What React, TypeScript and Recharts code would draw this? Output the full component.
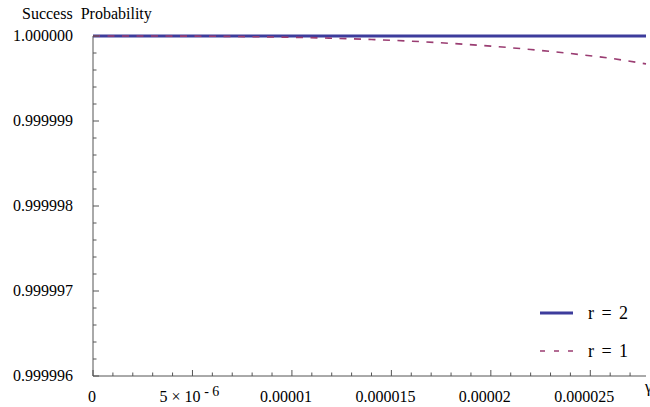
import { LineChart, Line, XAxis, YAxis, Legend } from 'recharts'

// x in units of the horizontal axis (step 2e-6)
const xValues = [
  0, 0.000002, 0.000004, 0.000006, 0.000008, 0.00001, 0.000012, 0.000014,
  0.000016, 0.000018, 0.00002, 0.000022, 0.000024, 0.000026, 0.0000278,
]
const r2Values = [1, 1, 1, 1, 1, 1, 1, 1, 1, 1, 1, 1, 1, 1, 1]
const r1Values = [
  1, 0.9999999999, 0.999999999, 0.999999997, 0.999999992, 0.999999985,
  0.999999974, 0.999999959, 0.999999939, 0.999999913, 0.999999881,
  0.999999841, 0.999999794, 0.999999738, 0.999999672,
]

const xTicks = [
  0, 0.000001, 0.000002, 0.000003, 0.000004, 0.000005, 0.000006, 0.000007,
  0.000008, 0.000009, 0.00001, 0.000011, 0.000012, 0.000013, 0.000014,
  0.000015, 0.000016, 0.000017, 0.000018, 0.000019, 0.00002, 0.000021,
  0.000022, 0.000023, 0.000024, 0.000025, 0.000026, 0.000027,
]
const xMajor = [0, 0.000005, 0.00001, 0.000015, 0.00002, 0.000025]
const xLabels = ['0', '5e-6', '0.00001', '0.000015', '0.00002', '0.000025']

const yTicks = [
  0.999996, 0.9999962, 0.9999964, 0.9999966, 0.9999968,
  0.999997, 0.9999972, 0.9999974, 0.9999976, 0.9999978,
  0.999998, 0.9999982, 0.9999984, 0.9999986, 0.9999988,
  0.999999, 0.9999992, 0.9999994, 0.9999996, 0.9999998, 1,
]
const yMajor = [0.999996, 0.999997, 0.999998, 0.999999, 1]
const yLabels = ['0.999996', '0.999997', '0.999998', '0.999999', '1.000000']

const data = xValues.map((x, i) => ({ x, r2: r2Values[i], r1: r1Values[i] }))

const series = [
  { key: 'r2', name: 'r = 2', color: '#3d3c9c', width: 3.2, dash: undefined, legendDash: undefined },
  { key: 'r1', name: 'r = 1', color: '#9a3d72', width: 1.6, dash: '7 7.5', legendDash: '5 9' },
]

const FONT = "'Liberation Serif', 'Times New Roman', serif"
const AXIS = '#555'

function YTick({ x, y, payload }: any) {
  const idx = yMajor.indexOf(payload.value)
  const major = idx >= 0
  return (
    <g>
      <line x1={x} x2={x + (major ? 6 : 3.5)} y1={y} y2={y} stroke={AXIS} strokeWidth={1} />
      {major && (
        <text x={x - 20} y={y} dy={5} textAnchor="end" fontFamily={FONT} fontSize={16} fill="#000">
          {yLabels[idx]}
        </text>
      )}
    </g>
  )
}

function XTick({ x, y, payload }: any) {
  const idx = xMajor.indexOf(payload.value)
  const major = idx >= 0
  let label = null
  if (major) {
    const s = xLabels[idx]
    if (s === '5e-6') {
      label = (
        <text x={x - 3} y={y + 26} textAnchor="middle" fontFamily={FONT} fontSize={16} fill="#000">
          5 × 10
          <tspan dy={-6} fontSize={14}>{' - 6'}</tspan>
        </text>
      )
    } else {
      label = (
        <text x={s === '0' ? x - 1 : x - 6} y={y + 26} textAnchor="middle" fontFamily={FONT} fontSize={16} fill="#000">
          {s}
        </text>
      )
    }
  }
  return (
    <g>
      <line x1={x} x2={x} y1={y} y2={y - (major ? 6 : 3.5)} stroke={AXIS} strokeWidth={1} />
      {label}
    </g>
  )
}

function LegendBox() {
  return (
    <svg width={120} height={75} style={{ display: 'block' }}>
      {series.map((s, i) => (
        <g key={s.key}>
          <line
            x1={10}
            x2={43}
            y1={18 + i * 38}
            y2={18 + i * 38}
            stroke={s.color}
            strokeWidth={s.width}
            strokeDasharray={s.legendDash}
          />
          <text
            x={58}
            y={18 + i * 38}
            dy={6}
            fontFamily={FONT}
            fontSize={18}
            fill="#000"
            textLength={40}
            lengthAdjust="spacing"
          >
            {s.name}
          </text>
        </g>
      ))}
    </svg>
  )
}

export default function App() {
  return (
    <div style={{ position: 'absolute', left: 0, top: 0, width: 650, height: 407, background: '#fff' }}>
      <div
        style={{
          position: 'absolute',
          left: 22,
          top: 6,
          fontFamily: FONT,
          fontSize: 16,
          lineHeight: '16px',
          whiteSpace: 'pre',
          color: '#000',
        }}
      >
        {'Success  Probability'}
      </div>
      <LineChart width={650} height={407} data={data} margin={{ top: 36, right: 4, left: 0, bottom: 0 }}>
        <XAxis
          dataKey="x"
          type="number"
          domain={[0, 0.0000278]}
          ticks={xTicks}
          interval={0}
          height={31}
          tickSize={0}
          tickMargin={0}
          tickLine={false}
          axisLine={{ stroke: AXIS }}
          tick={<XTick />}
          label={(props: any) => {
            const vb = props.viewBox || {}
            return (
              <text x={(vb.x || 0) + (vb.width || 0) - 1} y={(vb.y || 0) + 16} fontFamily={FONT} fontSize={16} fill="#000">
                γ
              </text>
            )
          }}
        />
        <YAxis
          type="number"
          domain={[0.999996, 1]}
          ticks={yTicks}
          interval={0}
          width={93}
          tickSize={0}
          tickMargin={0}
          tickLine={false}
          axisLine={{ stroke: AXIS }}
          tick={<YTick />}
        />
        {series.map((s) => (
          <Line
            key={s.key}
            type="monotone"
            dataKey={s.key}
            name={s.name}
            stroke={s.color}
            strokeWidth={s.width}
            strokeDasharray={s.dash}
            dot={false}
            activeDot={false}
            isAnimationActive={false}
          />
        ))}
        <Legend
          layout="vertical"
          align="center"
          verticalAlign="middle"
          content={<LegendBox />}
          wrapperStyle={{ position: 'absolute', left: 530, top: 295, width: 120, height: 75 }}
        />
      </LineChart>
    </div>
  )
}
